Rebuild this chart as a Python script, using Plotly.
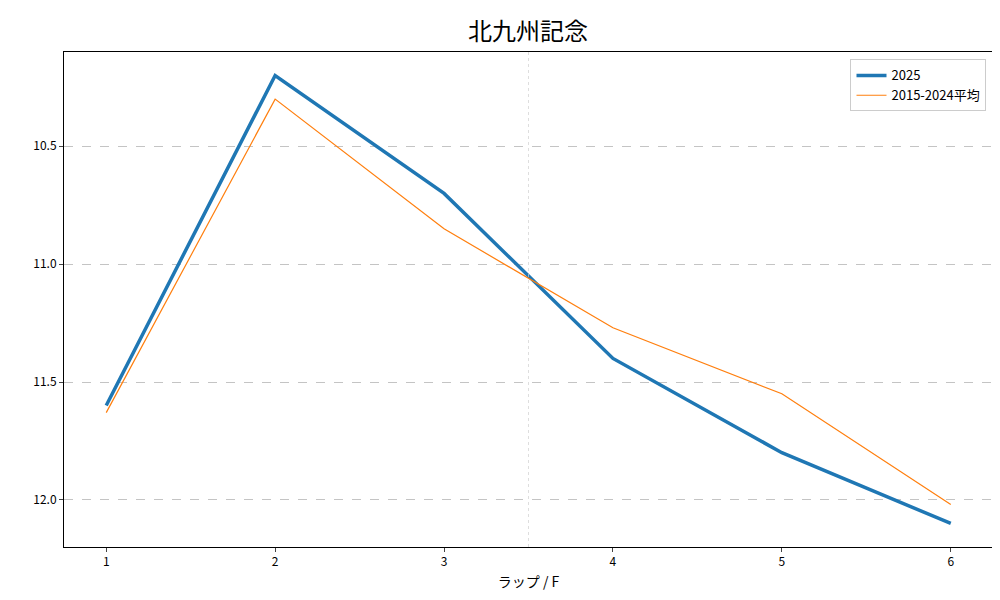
import plotly.graph_objects as go

laps = [1, 2, 3, 4, 5, 6]
y2025 = [11.6, 10.2, 10.7, 11.4, 11.8, 12.1]
yavg = [11.63, 10.30, 10.85, 11.27, 11.55, 12.02]
yticks = [10.5, 11.0, 11.5, 12.0]

fig = go.Figure()
fig.add_trace(go.Scatter(x=laps, y=y2025, mode="lines", name="2025",
                         line=dict(color="#1f77b4", width=3.5)))
fig.add_trace(go.Scatter(x=laps, y=yavg, mode="lines", name="2015-2024平均",
                         line=dict(color="#ff7f0e", width=1.2)))
fig.add_vline(x=3.5, line=dict(color="#d0d0d0", width=0.7, dash="dot"))
font = "Noto Sans CJK JP"
fig.update_layout(
    width=1000, height=600, plot_bgcolor="white", paper_bgcolor="white",
    margin=dict(l=56, r=15, t=44, b=61, autoexpand=False),
    font=dict(family=font, size=12, color="black"),
    title=dict(text="北九州記念", x=0.52, xanchor="center", y=0.96, yanchor="middle",
               font=dict(size=24, family=font)),
    xaxis=dict(range=[0.75, 6.25], tickvals=laps, showgrid=False, showline=True,
               linecolor="black", mirror=True, ticks="outside", ticklen=4, automargin=False,
               title=dict(text="ラップ / F", standoff=8, font=dict(size=14)), zeroline=False),
    yaxis=dict(range=[12.2, 10.1], tickvals=yticks, tickformat=".1f", automargin=False,
               showgrid=True, gridcolor="#c4c4c4", griddash="dash", gridwidth=0.5,
               showline=True, linecolor="black", mirror=True, ticks="outside", ticklen=4,
               zeroline=False),
    legend=dict(x=0.993, y=0.985, xanchor="right", yanchor="top",
                bordercolor="#cccccc", borderwidth=1, bgcolor="rgba(255,255,255,0.8)",
                font=dict(size=13)),
)
fig.write_html("out.html")
